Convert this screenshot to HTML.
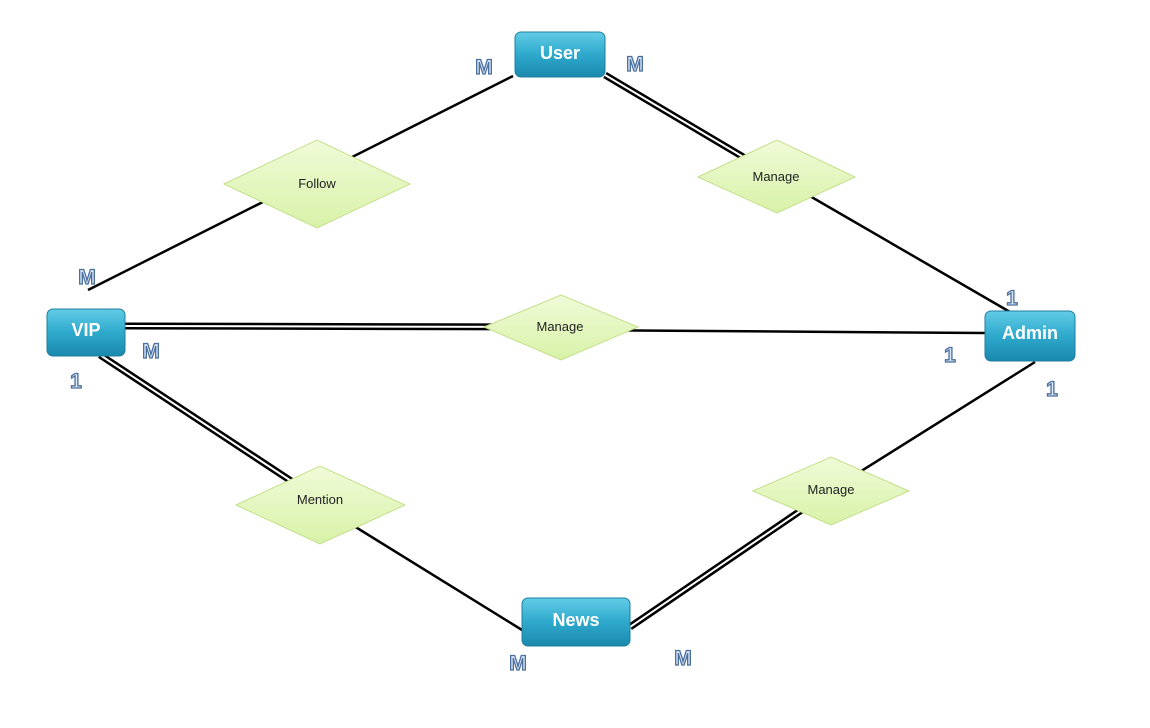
<!DOCTYPE html>
<html><head><meta charset="utf-8"><style>
html,body{margin:0;padding:0;background:#fff;}
svg{display:block}
text{font-family:"Liberation Sans",sans-serif}
.card{font-size:21px;font-weight:bold;fill:#dce8f5;stroke:#4a6fa0;stroke-width:1.3px}
.dl{font-size:13px;fill:#222}
.bl{font-size:18px;font-weight:bold;fill:#fff}
</style></head><body>
<svg width="1150" height="728" viewBox="0 0 1150 728">
<defs>
<linearGradient id="bx" x1="0" y1="0" x2="0" y2="1">
<stop offset="0" stop-color="#62cce6"/><stop offset="0.5" stop-color="#2ea9cc"/><stop offset="1" stop-color="#1a89ad"/>
</linearGradient>
<linearGradient id="dm" x1="0" y1="0" x2="0" y2="1">
<stop offset="0" stop-color="#f0fbd8"/><stop offset="1" stop-color="#d8f2a8"/>
</linearGradient>
</defs>
<g stroke="#000" fill="none">
<!-- single lines -->
<line x1="513" y1="76" x2="88" y2="290" stroke-width="2.5"/>
<line x1="777" y1="177" x2="1010" y2="312" stroke-width="2.5"/>
<line x1="561" y1="330" x2="985" y2="333" stroke-width="2.5"/>
<line x1="320" y1="505" x2="522" y2="630" stroke-width="2.5"/>
<line x1="831" y1="490" x2="1035" y2="362" stroke-width="2.5"/>
<!-- double lines -->
<g stroke-width="7">
<line x1="605" y1="75" x2="777" y2="177"/>
<line x1="125" y1="326" x2="561" y2="327"/>
<line x1="100" y1="355" x2="320" y2="500"/>
<line x1="630" y1="627" x2="831" y2="490"/>
</g>
<g stroke="#fff" stroke-width="2">
<line x1="605" y1="75" x2="777" y2="177"/>
<line x1="125" y1="326" x2="561" y2="327"/>
<line x1="100" y1="355" x2="320" y2="500"/>
<line x1="630" y1="627" x2="831" y2="490"/>
</g>
</g>
<!-- diamonds -->
<g fill="url(#dm)" stroke="#c4e08a" stroke-width="1">
<polygon points="224,184 317,140 410,184 317,228"/>
<polygon points="698,177 777,140 855,177 777,213"/>
<polygon points="484,327 561,295 638,327 561,360"/>
<polygon points="236,505 320,466 405,505 320,544"/>
<polygon points="753,491 831,457 909,491 831,525"/>
</g>
<text class="dl" x="317" y="188" text-anchor="middle">Follow</text>
<text class="dl" x="776" y="181" text-anchor="middle">Manage</text>
<text class="dl" x="560" y="331" text-anchor="middle">Manage</text>
<text class="dl" x="320" y="504" text-anchor="middle">Mention</text>
<text class="dl" x="831" y="494" text-anchor="middle">Manage</text>
<!-- boxes -->
<g fill="url(#bx)" stroke="#1f7f9f" stroke-width="1">
<rect x="515" y="32" width="90" height="45" rx="6"/>
<rect x="47" y="309" width="78" height="47" rx="6"/>
<rect x="985" y="311" width="90" height="50" rx="6"/>
<rect x="522" y="598" width="108" height="48" rx="6"/>
</g>
<text class="bl" x="560" y="59" text-anchor="middle">User</text>
<text class="bl" x="86" y="336" text-anchor="middle">VIP</text>
<text class="bl" x="1030" y="339" text-anchor="middle">Admin</text>
<text class="bl" x="576" y="626" text-anchor="middle">News</text>
<!-- cardinalities -->
<text class="card" x="484" y="74" text-anchor="middle">M</text>
<text class="card" x="635" y="71" text-anchor="middle">M</text>
<text class="card" x="87" y="284" text-anchor="middle">M</text>
<text class="card" x="151" y="358" text-anchor="middle">M</text>
<text class="card" x="76" y="388" text-anchor="middle">1</text>
<text class="card" x="1012" y="305" text-anchor="middle">1</text>
<text class="card" x="950" y="362" text-anchor="middle">1</text>
<text class="card" x="1052" y="396" text-anchor="middle">1</text>
<text class="card" x="518" y="670" text-anchor="middle">M</text>
<text class="card" x="683" y="665" text-anchor="middle">M</text>
</svg>
</body></html>
